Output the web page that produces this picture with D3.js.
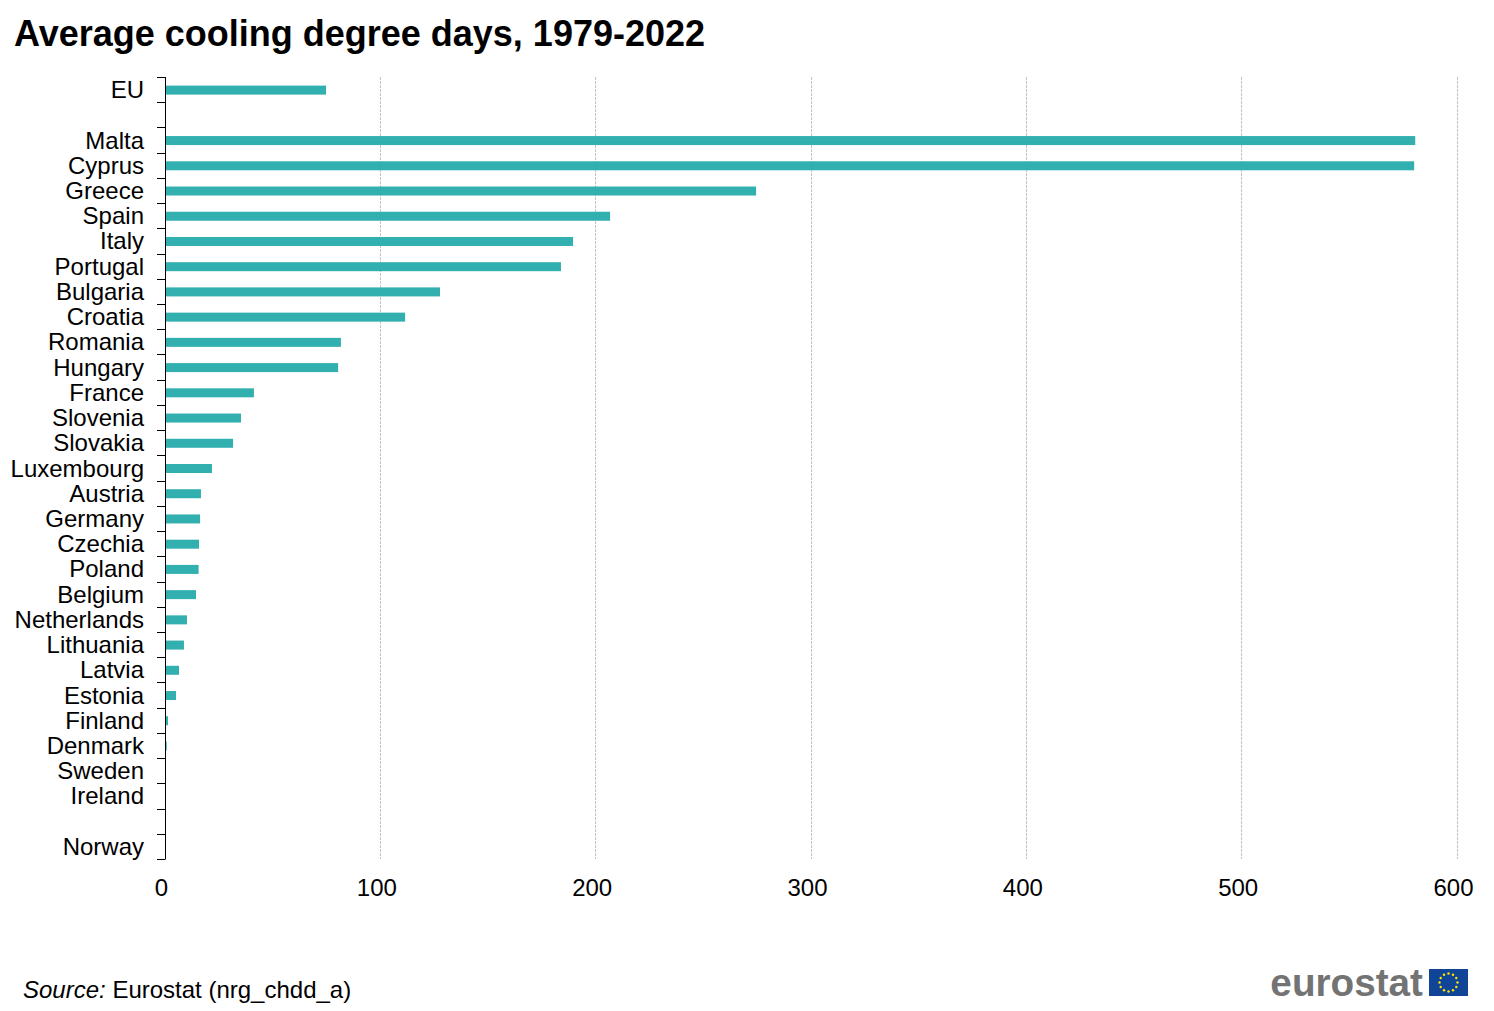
<!DOCTYPE html>
<html>
<head>
<meta charset="utf-8">
<script src="https://cdn.jsdelivr.net/npm/d3@7/dist/d3.min.js"></script>
<style>
  html, body { margin: 0; padding: 0; background: #fff; }
  svg { display: block; font-family: "Liberation Sans", Arial, sans-serif; }
</style>
</head>
<body>
<svg id="chart" width="1494" height="1011"></svg>
<script>
// Average cooling degree days per country; blank rows separate the EU and Norway.
const countries = ["EU", " ", "Malta", "Cyprus", "Greece", "Spain", "Italy", "Portugal", "Bulgaria",
  "Croatia", "Romania", "Hungary", "France", "Slovenia", "Slovakia", "Luxembourg", "Austria", "Germany",
  "Czechia", "Poland", "Belgium", "Netherlands", "Lithuania", "Latvia", "Estonia", "Finland", "Denmark",
  "Sweden", "Ireland", "  ", "Norway"];
const cdd = [74.8, null, 580.6, 580.1, 274.5, 206.7, 189.5, 183.9, 127.7,
  111.5, 81.7, 80.4, 41.3, 35.3, 31.6, 21.8, 16.7, 16.3,
  15.8, 15.6, 14.4, 10.2, 8.8, 6.5, 5.1, 1.4, 0.8,
  0.2, 0.1, null, 0.1];
const valueTicks = [0, 100, 200, 300, 400, 500, 600];

const svg = d3.select("#chart");
const x = d3.scaleLinear().domain([0, 600]).range([165, 1457]);
const y = d3.scaleBand().domain(countries).range([77, 859]);
const barHeight = 9;

svg.append("text").attr("x", 14).attr("y", 46)
  .attr("font-size", 36).attr("font-weight", 700).attr("fill", "#000")
  .text("Average cooling degree days, 1979-2022");

// Vertical gridlines
svg.append("g").selectAll("line").data(valueTicks.slice(1)).join("line")
  .attr("x1", d => Math.floor(x(d)) + 0.5).attr("x2", d => Math.floor(x(d)) + 0.5)
  .attr("y1", 77).attr("y2", 859)
  .attr("stroke", "#c4c4c4").attr("stroke-width", 1).attr("stroke-dasharray", "3,1");

// Bars
svg.append("g").selectAll("rect").data(countries.map((c, i) => ({ c, v: cdd[i] })).filter(d => d.v !== null)).join("rect")
  .attr("x", x(0))
  .attr("y", d => y(d.c) + y.bandwidth() / 2 - barHeight / 2 + 0.5)
  .attr("width", d => x(d.v) - x(0))
  .attr("height", barHeight)
  .attr("fill", "#32afaf");

// Category axis: ticks sit on band edges, labels centred in each band
const edges = d3.range(countries.length + 1).map(i => 77 + i * y.step());
const catAxis = svg.append("g");
catAxis.append("line").attr("x1", 165.5).attr("x2", 165.5).attr("y1", 77).attr("y2", 859.5)
  .attr("stroke", "#000");
catAxis.selectAll("line.tick").data(edges).join("line").attr("class", "tick")
  .attr("x1", 157).attr("x2", 165)
  .attr("y1", d => Math.round(d) + 0.5).attr("y2", d => Math.round(d) + 0.5)
  .attr("stroke", "#000");
catAxis.selectAll("text").data(countries).join("text")
  .attr("x", 144).attr("y", d => y(d) + y.bandwidth() / 2 + 8.5)
  .attr("text-anchor", "end").attr("font-size", 24).attr("fill", "#000")
  .text(d => d.trim());

// Value axis labels, set slightly left of their gridlines
const valueAxis = d3.axisBottom(x).tickValues(valueTicks).tickSize(0).tickPadding(0);
const vg = svg.append("g").attr("transform", "translate(-4,879)").call(valueAxis);
vg.select(".domain").remove();
vg.selectAll("text").attr("font-size", 24).attr("font-family", "Liberation Sans").attr("fill", "#000");

// Source note
const src = svg.append("text").attr("x", 23).attr("y", 998).attr("font-size", 24).attr("fill", "#000");
src.append("tspan").attr("font-style", "italic").text("Source:");
src.append("tspan").text(" Eurostat (nrg_chdd_a)");

// Eurostat wordmark and flag
svg.append("text").attr("x", 1423).attr("y", 996).attr("text-anchor", "end")
  .attr("font-size", 38.7).attr("font-weight", 700).attr("fill", "#737373")
  .text("eurostat");
const flag = svg.append("g");
flag.append("rect").attr("x", 1429).attr("y", 969).attr("width", 39).attr("height", 27).attr("fill", "#0f4496");
flag.selectAll("circle").data(d3.range(12)).join("circle")
  .attr("cx", i => 1448.5 + 9 * Math.sin(i * Math.PI / 6))
  .attr("cy", i => 982.5 - 9 * Math.cos(i * Math.PI / 6))
  .attr("r", 1.2).attr("fill", "#ffe600");
</script>
</body>
</html>
